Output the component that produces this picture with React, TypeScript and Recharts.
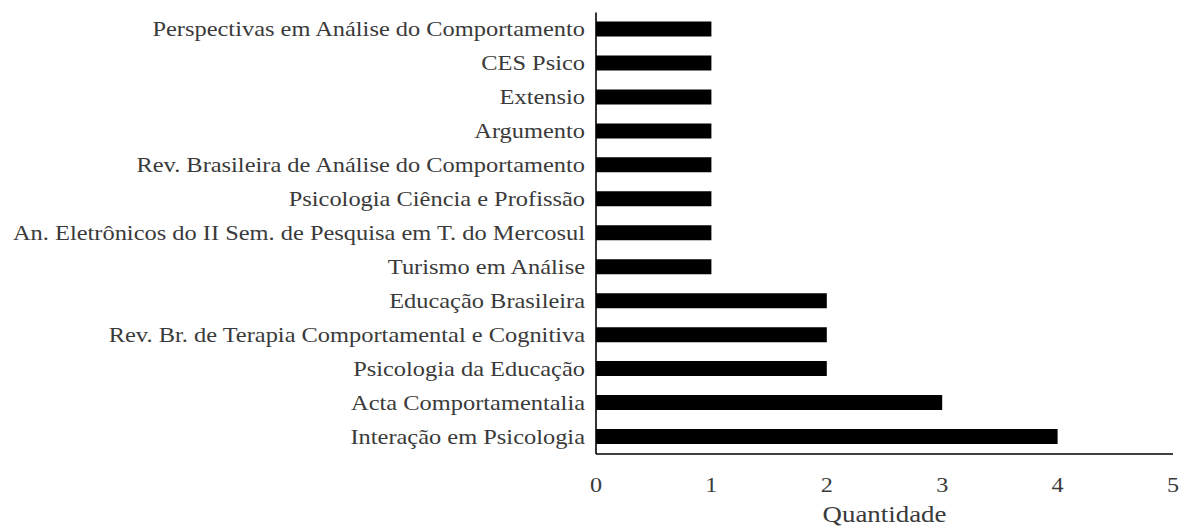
import React from 'react';
import { BarChart, Bar, XAxis, YAxis, Label } from 'recharts';

const categories: string[] = [
  'Perspectivas em Análise do Comportamento',
  'CES Psico',
  'Extensio',
  'Argumento',
  'Rev. Brasileira de Análise do Comportamento',
  'Psicologia Ciência e Profissão',
  'An. Eletrônicos do II Sem. de Pesquisa em T. do Mercosul',
  'Turismo em Análise',
  'Educação Brasileira',
  'Rev. Br. de Terapia Comportamental e Cognitiva',
  'Psicologia da Educação',
  'Acta Comportamentalia',
  'Interação em Psicologia',
];

const quantities: number[] = [1, 1, 1, 1, 1, 1, 1, 1, 2, 2, 2, 3, 4];

const xTicks: number[] = [0, 1, 2, 3, 4, 5];

const axisTitle = 'Quantidade';

const data = categories.map((name, i) => ({ name, value: quantities[i] }));

const FONT = '"Liberation Serif", "Times New Roman", serif';
const TEXT_COLOR = '#3a3a3a';

const YTick = (props: any) => {
  const { x, y, payload } = props;
  return (
    <g transform={`translate(${x - 11},${y})`}>
      <text
        x={0}
        y={0}
        dy={6.6}
        textAnchor="end"
        transform="scale(1.11,1)"
        fontFamily={FONT}
        fontSize={22}
        fill={TEXT_COLOR}
      >
        {payload.value}
      </text>
    </g>
  );
};

const XTick = (props: any) => {
  const { x, y, payload } = props;
  return (
    <g transform={`translate(${x},${y})`}>
      <text
        x={0}
        y={38}
        textAnchor="middle"
        transform="scale(1.1,1)"
        fontFamily={FONT}
        fontSize={22}
        fill={TEXT_COLOR}
      >
        {payload.value}
      </text>
    </g>
  );
};

const AxisTitle = (props: any) => {
  const vb = props.viewBox || { x: 596, y: 454, width: 577, height: 76 };
  const cx = vb.x + vb.width / 2;
  return (
    <g transform={`translate(${cx},${522})`}>
      <text
        x={0}
        y={0}
        textAnchor="middle"
        transform="scale(1.12,1)"
        fontFamily={FONT}
        fontSize={24}
        fill={TEXT_COLOR}
      >
        {axisTitle}
      </text>
    </g>
  );
};

export default function App() {
  return (
    <div style={{ position: 'absolute', left: 0, top: 0, background: '#fff' }}>
      <BarChart
        width={1180}
        height={530}
        data={data}
        layout="vertical"
        margin={{ top: 12.5, right: 7, left: 0, bottom: 0 }}
      >
        <XAxis
          type="number"
          domain={[0, 5]}
          ticks={xTicks}
          interval={0}
          height={76}
          tickSize={0}
          tickMargin={0}
          tickLine={false}
          axisLine={{ stroke: '#000', strokeWidth: 1.6 }}
          tick={<XTick />}
        >
          <Label content={<AxisTitle />} />
        </XAxis>
        <YAxis
          type="category"
          dataKey="name"
          width={596}
          interval={0}
          tickSize={0}
          tickMargin={0}
          tickLine={false}
          axisLine={{ stroke: '#000', strokeWidth: 1.6 }}
          tick={<YTick />}
        />
        <Bar dataKey="value" fill="#000" barSize={15} isAnimationActive={false} />
      </BarChart>
    </div>
  );
}
